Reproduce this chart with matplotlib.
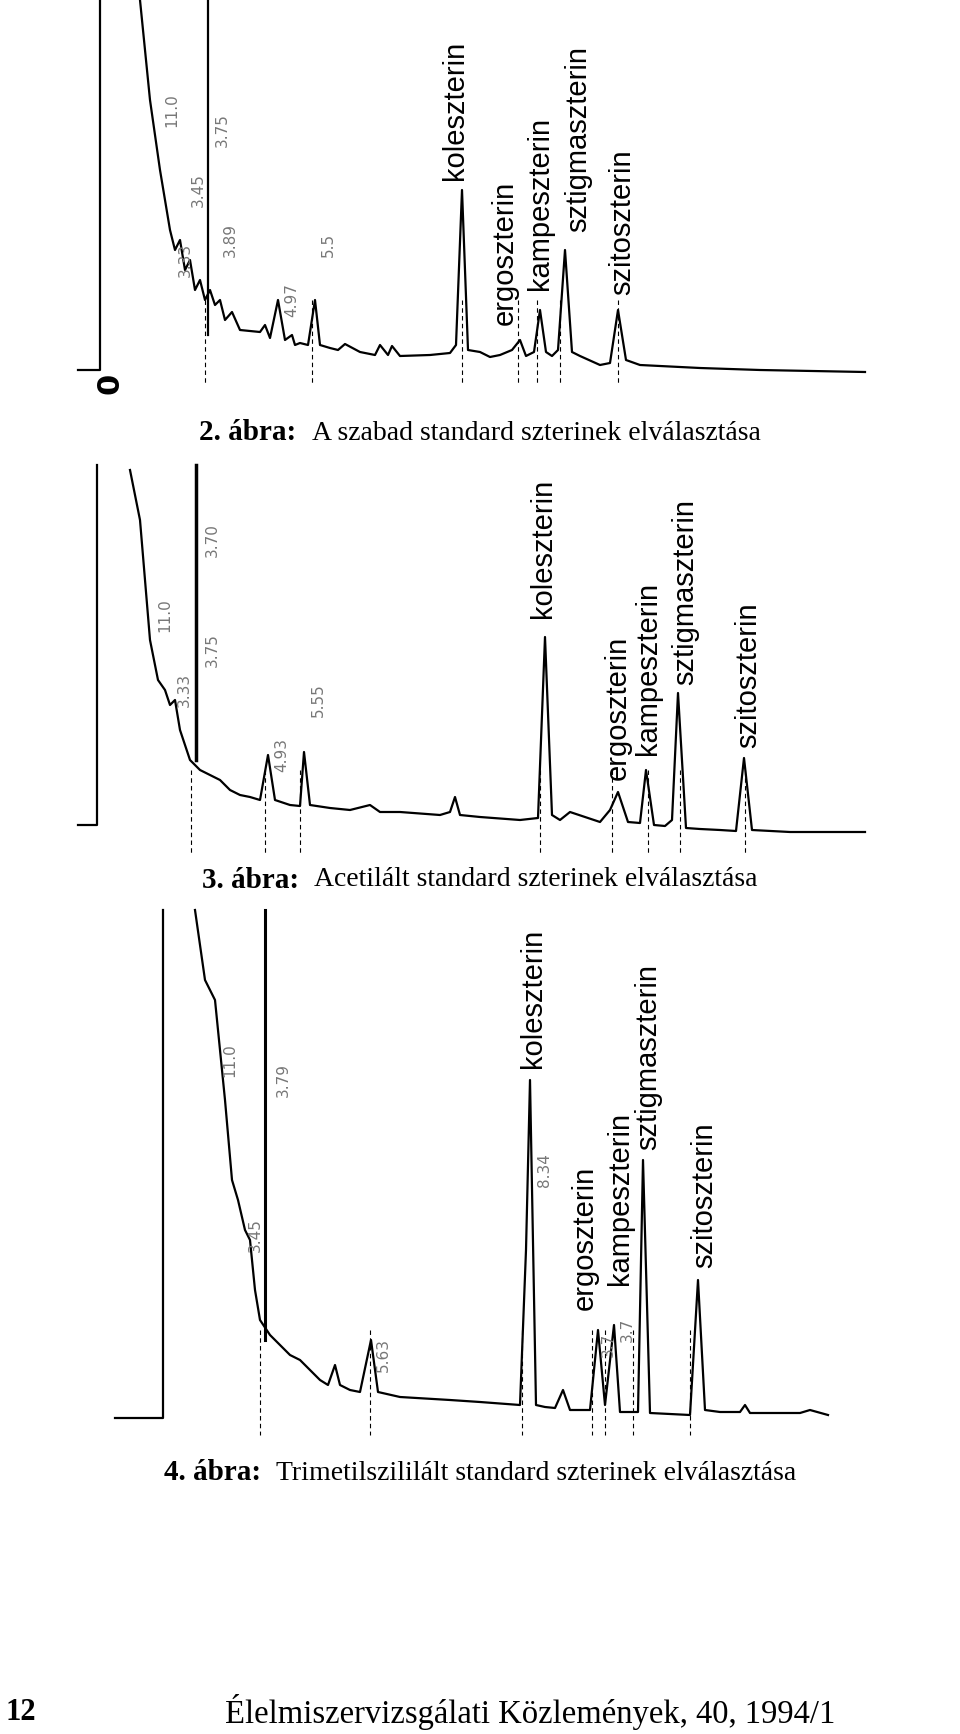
import matplotlib
matplotlib.use("Agg")
import matplotlib.pyplot as plt

# Trace vertices (retention axis px, response axis px; y grows downward)
t1_x = [140,150,160,170,175,180,185,190,195,200,205,210,215,220,225,232,240,260,265,270,278,285,292,295,300,308,315,320,330,338,345,360,375,380,388,392,400,430,450,456,462,468,480,490,500,512,520,526,534,540,546,552,558,565,572,580,600,610,618,626,640,680,700,760,865]
t1_y = [0,100,170,230,250,240,270,260,290,280,300,290,305,300,320,312,330,332,325,338,300,340,335,345,343,345,300,345,348,350,344,352,355,345,355,346,356,355,353,345,190,350,352,357,355,350,340,356,352,310,352,356,350,250,352,356,365,363,310,360,365,367,368,370,372]
t2_x = [130,140,150,158,165,170,175,180,185,190,200,210,220,230,240,250,260,268,275,290,300,304,310,330,350,370,380,400,440,450,455,460,480,520,538,545,552,560,570,600,610,618,628,640,646,654,665,672,678,686,700,720,736,744,752,790,865]
t2_y = [470,520,640,680,690,705,700,730,745,760,770,775,780,790,795,797,800,755,800,805,806,752,805,808,810,805,812,812,815,812,797,815,817,820,818,637,815,820,812,822,810,792,822,823,770,825,826,820,693,828,829,830,831,758,830,832,832]
t3_x = [195,205,215,225,232,238,245,250,255,260,270,280,290,300,310,320,328,335,340,350,360,371,378,400,450,480,520,526,530,536,545,555,563,570,590,598,605,614,620,630,638,643,650,670,690,698,705,720,740,745,750,780,800,810,828]
t3_y = [910,980,1000,1100,1180,1200,1230,1240,1290,1320,1335,1345,1355,1360,1370,1380,1385,1365,1385,1390,1392,1340,1392,1397,1400,1402,1405,1250,1080,1405,1407,1408,1390,1410,1410,1330,1405,1325,1412,1412,1412,1160,1413,1414,1415,1280,1410,1412,1412,1405,1413,1413,1413,1410,1415]

sterols = ["koleszterin","ergoszterin","kampeszterin","sztigmaszterin","szitoszterin"]
lab1_x = [455,505,540,578,622]; lab1_y = [180,325,290,232,295]
lab2_x = [543,618,648,685,748]; lab2_y = [618,780,755,685,748]
lab3_x = [533,585,620,648,704]; lab3_y = [1068,1310,1285,1150,1268]

captions = ["2. ábra: A szabad standard szterinek elválasztása",
            "3. ábra: Acetilált standard szterinek elválasztása",
            "4. ábra: Trimetilszililált standard szterinek elválasztása"]
cap_y = [433, 880, 1473]

fig = plt.figure(figsize=(9.6, 17.34), dpi=100)
ax = fig.add_axes([0, 0, 1, 1])
ax.set_xlim(0, 960); ax.set_ylim(1734, 0); ax.axis("off")

k = dict(color="black", lw=1.6)
for xs, ys in [(t1_x, t1_y), (t2_x, t2_y), (t3_x, t3_y)]:
    ax.plot(xs, ys, **k)
ax.plot([78, 100, 100], [370, 370, 0], **k)
ax.plot([208, 208], [0, 335], **k)
ax.plot([78, 97, 97], [825, 825, 465], **k)
ax.plot([196, 196], [465, 760], color="black", lw=2.5)
ax.plot([115, 163, 163], [1418, 1418, 910], **k)
ax.plot([265, 265], [910, 1340], color="black", lw=2.2)

for xs, y0, y1 in [([205,312,462,518,537,560,618], 300, 385),
                   ([191,265,300,540,612,648,680,745], 770, 855),
                   ([260,370,522,592,605,633,690], 1330, 1435)]:
    for x in xs:
        ax.plot([x, x], [y0, y1], color="black", lw=0.8, ls=(0, (4, 3)))

for lx, ly in [(lab1_x, lab1_y), (lab2_x, lab2_y), (lab3_x, lab3_y)]:
    for s, x, y in zip(sterols, lx, ly):
        ax.text(x, y, s, rotation=90, ha="center", va="bottom", fontsize=21,
                family="Liberation Sans")

small = [(172,110,"11.0"),(222,130,"3.75"),(198,190,"3.45"),(185,260,"3.33"),(230,240,"3.89"),
         (292,300,"4.97"),(328,245,"5.5"),(165,615,"11.0"),(212,540,"3.70"),(212,650,"3.75"),
         (184,690,"3.33"),(282,755,"4.93"),(318,700,"5.55"),(230,1060,"11.0"),(283,1080,"3.79"),
         (255,1235,"3.45"),(383,1355,"5.63"),(545,1170,"8.34"),(608,1345,"3.7"),(627,1330,"3.7")]
for x, y, s in small:
    ax.text(x, y, s, rotation=90, ha="center", va="center", fontsize=11, color="#777777")

ax.text(110, 383, "0", rotation=90, ha="center", va="center", fontsize=22, fontweight="bold")

fig.canvas.draw()
r = fig.canvas.get_renderer()
for c, y in zip(captions, cap_y):
    n, rest = c.split(": ", 1)
    tb = ax.text(0, y, n + ": ", fontsize=21, family="Liberation Serif", fontweight="bold", va="center")
    tr = ax.text(0, y, rest, fontsize=20, family="Liberation Serif", va="center")
    wb = tb.get_window_extent(r).width + 8
    wr = tr.get_window_extent(r).width
    x0 = 480 - (wb + wr) / 2
    tb.set_x(x0); tr.set_x(x0 + wb)

ax.text(5, 1712, "12", fontsize=22, family="Liberation Serif", fontweight="bold", va="center")
ax.text(225, 1712, "Élelmiszervizsgálati Közlemények, 40, 1994/1", fontsize=23.5,
        family="Liberation Serif", va="center")

fig.savefig("out.png", dpi=100)
